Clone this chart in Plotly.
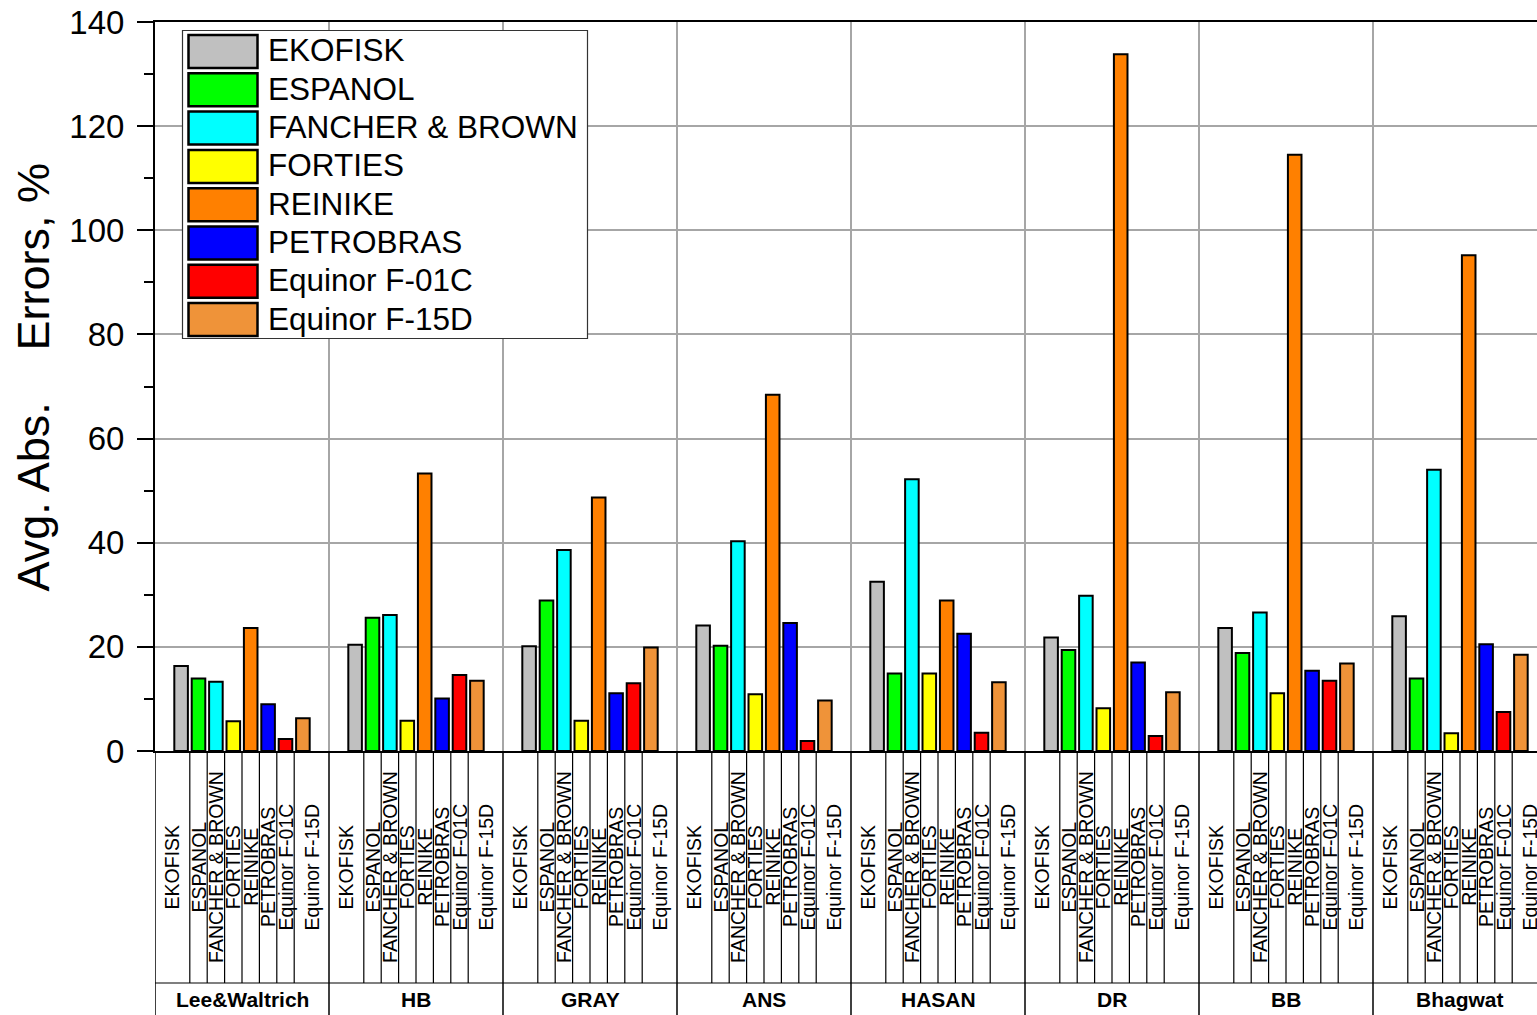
import plotly.graph_objects as go

# Correlation methods (groups along the x axis) and field datasets (bars within each group)
methods = ["Lee&Waltrich", "HB", "GRAY", "ANS", "HASAN", "DR", "BB", "Bhagwat"]
fields = ["EKOFISK", "ESPANOL", "FANCHER & BROWN", "FORTIES", "REINIKE",
          "PETROBRAS", "Equinor F-01C", "Equinor F-15D"]
field_colors = ["#C0C0C0", "#00FF00", "#00FFFF", "#FFFF00", "#FF8000",
                "#0000FF", "#FF0000", "#EF9339"]

# Average absolute error (%) per field, one value per method (order of `methods`)
ekofisk   = [16.3, 20.4, 20.1, 24.1, 32.5, 21.8, 23.6, 25.9]
espanol   = [13.9, 25.6, 28.9, 20.2, 14.9, 19.4, 18.8, 13.9]
fancher   = [13.3, 26.1, 38.6, 40.3, 52.2, 29.8, 26.6, 54.0]
forties   = [5.7, 5.8, 5.8, 10.9, 14.9, 8.2, 11.1, 3.4]
reinike   = [23.6, 53.3, 48.7, 68.4, 28.9, 133.8, 114.5, 95.2]
petrobras = [9.0, 10.1, 11.1, 24.6, 22.5, 17.0, 15.4, 20.5]
f01c      = [2.3, 14.6, 13.0, 1.9, 3.5, 2.9, 13.5, 7.5]
f15d      = [6.3, 13.5, 19.9, 9.7, 13.2, 11.3, 16.8, 18.5]

series = [ekofisk, espanol, fancher, forties, reinike, petrobras, f01c, f15d]

y_ticks = [0, 20, 40, 60, 80, 100, 120, 140]

FONT = "Arial, 'Liberation Sans', sans-serif"

# page geometry (pixels)
WIDTH, HEIGHT = 1537, 1015
PL, PR = 155, 1537          # plot area left / right
PT, PB = 22, 751            # plot area top / bottom
SLOT = 17.4                 # px per x unit (10 units per method group)
X_MAX = (PR - PL) / SLOT


def px_x(px):
    return (px - PL) / (PR - PL)


def px_y(py):
    return (PB - py) / (PB - PT)


GROUP = 10  # x units per method group: 1 empty slot, 8 bars, 1 empty slot

fig = go.Figure()
for i, (name, vals, col) in enumerate(zip(fields, series, field_colors)):
    xs = [g * GROUP + 1.5 + i for g in range(len(methods))]
    fig.add_trace(go.Bar(
        x=xs, y=vals, name=name, width=0.78,
        marker=dict(color=col, line=dict(color="black", width=2)),
        showlegend=False,
    ))

shapes = []
annotations = []

# separators in the label area below the x axis
y_label_row = px_y(983)
y_bottom = px_y(1015)
for g in range(len(methods) + 1):
    shapes.append(dict(type="line", xref="x", yref="paper",
                       x0=g * GROUP, x1=g * GROUP, y0=0, y1=y_bottom,
                       line=dict(color="black", width=1.5), layer="above"))
for g in range(len(methods)):
    for k in range(2, 9):
        xv = g * GROUP + k
        shapes.append(dict(type="line", xref="x", yref="paper",
                           x0=xv, x1=xv, y0=0, y1=y_label_row,
                           line=dict(color="black", width=1.2), layer="above"))
shapes.append(dict(type="line", xref="paper", yref="paper",
                   x0=0, x1=1, y0=y_label_row, y1=y_label_row,
                   line=dict(color="black", width=1.2)))

# rotated field labels and method labels
y_cat = px_y(867)
y_grp = px_y(999)
for g, m in enumerate(methods):
    for i, name in enumerate(fields):
        if i == 0:
            xc = g * GROUP + 1
        elif i == len(fields) - 1:
            xc = g * GROUP + 9
        else:
            xc = g * GROUP + i + 1.5
        annotations.append(dict(
            x=xc, y=y_cat, xref="x", yref="paper", text=name,
            textangle=-90, showarrow=False, xanchor="center", yanchor="middle",
            font=dict(family=FONT, size=19.5, color="black")))
    annotations.append(dict(
        x=g * GROUP + 5, y=y_grp, xref="x", yref="paper", text="<b>%s</b>" % m,
        showarrow=False, xanchor="center", yanchor="middle",
        font=dict(family=FONT, size=21, color="black")))

# y axis title
for txt, cy in [("Avg. Abs.", 497.5), ("Errors, %", 256.5)]:
    annotations.append(dict(
        x=px_x(33), y=px_y(cy), xref="paper", yref="paper", text=txt,
        textangle=-90, showarrow=False, xanchor="center", yanchor="middle",
        font=dict(family=FONT, size=45, color="black")))

# legend box
shapes.append(dict(type="rect", xref="paper", yref="paper",
                   x0=px_x(182.5), x1=px_x(587.5), y0=px_y(338.5), y1=px_y(30.5),
                   fillcolor="white", line=dict(color="#333333", width=1.2),
                   layer="above"))
for k, (name, col) in enumerate(zip(fields, field_colors)):
    top = 35 + k * 38.3
    shapes.append(dict(type="rect", xref="paper", yref="paper",
                       x0=px_x(188.5), x1=px_x(257.5),
                       y0=px_y(top + 33), y1=px_y(top),
                       fillcolor=col, line=dict(color="black", width=2.5),
                       layer="above"))
    annotations.append(dict(
        x=px_x(266), y=px_y(top + 15.5), xref="paper", yref="paper", text=name,
        showarrow=False, xanchor="left", yanchor="middle",
        font=dict(family=FONT, size=31.5, color="black")))

fig.update_layout(
    width=WIDTH, height=HEIGHT,
    margin=dict(l=PL, r=WIDTH - PR, t=PT, b=HEIGHT - PB, pad=0),
    paper_bgcolor="white", plot_bgcolor="white",
    barmode="overlay",
    shapes=shapes, annotations=annotations,
    xaxis=dict(
        range=[0, X_MAX], tickmode="array",
        tickvals=[g * GROUP for g in range(len(methods) + 1)],
        showticklabels=False, ticks="",
        showgrid=True, gridcolor="#A6A6A6", gridwidth=1.5,
        showline=True, linecolor="black", linewidth=2, mirror=True,
        zeroline=False, fixedrange=True,
    ),
    yaxis=dict(
        range=[0, 140], tickmode="array", tickvals=y_ticks,
        ticktext=[str(v) for v in y_ticks],
        ticks="outside", ticklen=16, tickwidth=2, tickcolor="black",
        ticklabelstandoff=6,
        minor=dict(ticks="outside", ticklen=9, tickwidth=2, tickcolor="black",
                   dtick=10, tick0=0, showgrid=False),
        tickfont=dict(family=FONT, size=33, color="black"),
        showgrid=True, gridcolor="#A6A6A6", gridwidth=1.5,
        showline=True, linecolor="black", linewidth=2, mirror=False,
        zeroline=False, fixedrange=True,
    ),
)

fig.write_html("out.html")
